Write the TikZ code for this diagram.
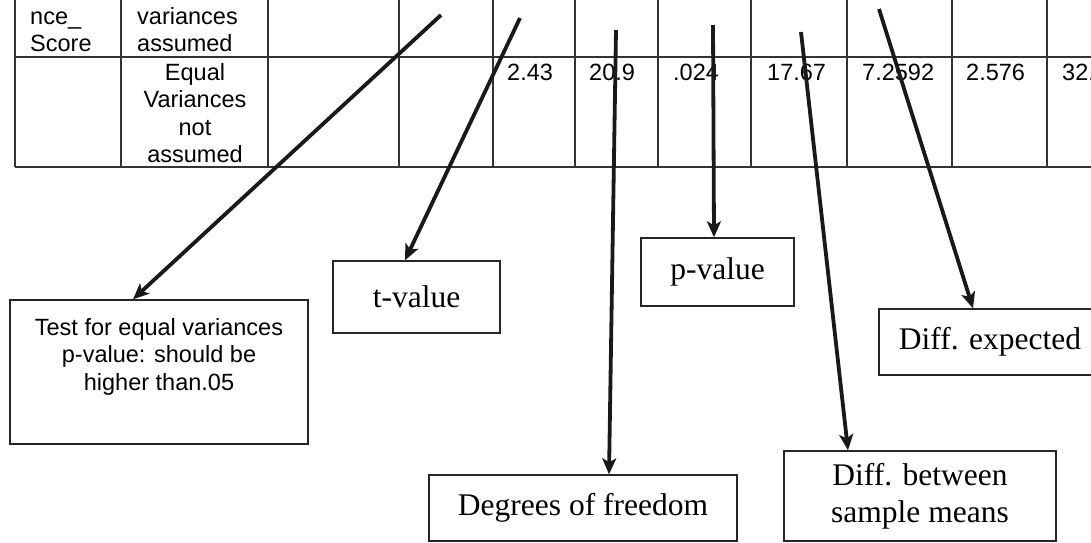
\documentclass[tikz,border=0pt]{standalone}
\usepackage{fontspec}
\setmainfont{Liberation Serif}
\setsansfont{Liberation Sans}
\usetikzlibrary{
  arrows.meta,
  positioning
}

\begin{document}
\begin{tikzpicture}[
      x=1pt, y=-1pt,
      cell/.style={
         font=\sffamily\fontsize{23.5}{27.5}\selectfont,
         inner sep=0pt,
         anchor=base west
      },
      mid cell/.style={
         cell,
         anchor=base
      },
      note/.style={
         rectangle,
         draw=black!85,
         line width=1.4pt,
         inner sep=2pt,
         font=\fontsize{31.5}{37}\selectfont,
         align=center
      },
      rule/.style={draw=black!80,line width=1.2pt},
      point/.style={coordinate},
      tip/.style={-{Stealth[length=16pt,width=14pt,inset=4pt]},line width=3.8pt,draw=black!90}
    ]
    \clip (0,0) rectangle (1091,542);
    % table grid
    \foreach \x in {15,121,268,399,493,575,658,751,847,952,1047}
       \draw[rule] (\x,-10) -- (\x,167);
    \draw[rule] (15,57) -- (1100,57);
    \draw[rule] (15,167) -- (1100,167);
    % first row
    \node (r1a) [cell] at (30,24) {nce\_};
    \node (r1b) [cell] at (30,51) {Score};
    \node (r1c) [cell] at (137,24) {variances};
    \node (r1d) [cell] at (137,51) {assumed};
    % second row
    \node (r2a) [mid cell] at (195,80) {Equal};
    \node (r2b) [mid cell] at (195,107.5) {Variances};
    \node (r2c) [mid cell] at (195,135) {not};
    \node (r2d) [mid cell] at (195,162.5) {assumed};
    \node (tval) [cell] at (507,80) {2.43};
    \node (dfval) [cell] at (589,80) {20.9};
    \node (pval) [cell] at (673,80) {.024};
    \node (meanval) [cell] at (767,80) {17.67};
    \node (seval) [cell] at (862,80) {7.2592};
    \node (lowval) [cell] at (966,80) {2.576};
    \node (upval) [cell] at (1062,80) {32.};
    % notes
    \node (testbox) [note, font=\sffamily\fontsize{23.5}{27.5}\selectfont,
       minimum width=298pt, minimum height=144pt] at (159,372)
       {Test for equal variances\\p-value: should be\\higher than.05\\ \strut};
    \node (tbox) [note, minimum width=167pt, minimum height=72pt] at (416.5,297) {t-value};
    \node (pbox) [note, minimum width=153pt, minimum height=68pt] at (717.5,272) {p-value};
    \node (dfbox) [note, minimum width=308pt, minimum height=66pt] at (583,508) {Degrees of freedom};
    \node (meanbox) [note, minimum width=272pt, minimum height=90pt] at (920,496) {Diff. between\\sample means};
    \node (expbox) [note, minimum width=222pt, minimum height=66pt] at (990,342) {Diff. expected};
    % arrows
    \coordinate (s1) at (441,15);
    \coordinate (s2) at (520,18);
    \coordinate (s3) at (616,30);
    \coordinate (s4) at (713,25);
    \coordinate (s5) at (801,32);
    \coordinate (s6) at (879,9);
    \draw[tip] (s1) -- ([xshift=-26pt]testbox.north);
    \draw[tip] (s2) -- ([xshift=-11.5pt]tbox.north);
    \draw[tip] (s3) -- ([xshift=26pt]dfbox.north);
    \draw[tip] (s4) -- ([xshift=-3.5pt]pbox.north);
    \draw[tip] (s5) -- ([xshift=-72pt]meanbox.north);
    \draw[tip] (s6) -- ([xshift=-17pt]expbox.north);
\end{tikzpicture}
\end{document}
